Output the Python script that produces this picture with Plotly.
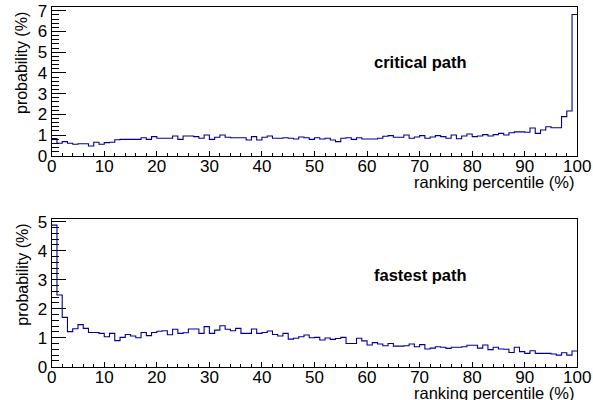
import plotly.graph_objects as go

bin_edges = list(range(0, 101))

critical_path = [
    0.83, 0.60, 0.68, 0.60, 0.55, 0.58, 0.58, 0.47, 0.65, 0.55,
    0.63, 0.65, 0.77, 0.79, 0.79, 0.79, 0.79, 0.87, 0.79, 0.92,
    0.84, 0.84, 0.84, 0.95, 0.79, 0.95, 0.95, 0.92, 0.84, 1.00,
    0.79, 0.89, 1.00, 0.89, 0.87, 0.87, 0.87, 0.76, 0.92, 0.76,
    0.89, 0.95, 0.84, 0.84, 0.87, 0.84, 0.81, 0.90, 0.87, 0.79,
    0.87, 0.81, 0.84, 0.76, 0.68, 0.84, 0.87, 0.79, 0.87, 0.81,
    0.81, 0.81, 0.84, 0.94, 0.97, 0.89, 0.89, 1.00, 0.84, 0.90,
    0.97, 0.84, 0.90, 0.97, 0.92, 0.84, 1.00, 0.82, 0.95, 1.05,
    0.92, 0.95, 1.02, 0.95, 1.02, 1.08, 1.00, 1.11, 1.15, 1.15,
    1.13, 1.34, 1.08, 1.24, 1.40, 1.35, 1.35, 1.89, 2.16, 6.82,
]

fastest_path = [
    4.88, 2.47, 1.70, 1.21, 1.31, 1.45, 1.32, 1.18, 1.18, 1.15,
    1.03, 1.15, 0.90, 1.01, 1.11, 1.06, 1.00, 1.18, 1.07, 1.18,
    1.22, 1.24, 1.10, 1.29, 1.15, 1.17, 1.30, 1.30, 1.15, 1.38,
    1.15, 1.26, 1.41, 1.29, 1.24, 1.32, 1.15, 1.15, 1.30, 1.15,
    1.18, 1.23, 1.11, 1.06, 1.15, 0.95, 0.98, 1.03, 1.09, 1.00,
    1.01, 0.92, 0.99, 0.94, 0.97, 1.01, 0.80, 0.80, 0.98, 0.89,
    0.75, 0.83, 0.78, 0.72, 0.80, 0.71, 0.71, 0.72, 0.78, 0.69,
    0.76, 0.61, 0.64, 0.69, 0.67, 0.63, 0.67, 0.67, 0.69, 0.74,
    0.74, 0.64, 0.75, 0.59, 0.67, 0.61, 0.60, 0.49, 0.67, 0.52,
    0.46, 0.55, 0.46, 0.46, 0.46, 0.44, 0.40, 0.48, 0.40, 0.54,
]

x_ticks = [0, 10, 20, 30, 40, 50, 60, 70, 80, 90, 100]
panel_titles = ["critical path", "fastest path"]
x_title = "ranking percentile (%)"
y_title = "probability (%)"

W, H = 593, 400
FONT = "Liberation Sans, Arial, Helvetica, sans-serif"
LINE = "#000099"

# plot-area pixel boxes (left, right, top, bottom)
x0, x1 = 51.7, 577.3
panels = [(7.3, 155.7, 7.17), (219.0, 366.7, 5.09)]

fig = go.Figure()
data = [critical_path, fastest_path]

for i, (vals, (top, bot, ymax)) in enumerate(zip(data, panels)):
    sfx = "" if i == 0 else str(i + 1)
    fig.add_trace(go.Scatter(
        x=bin_edges, y=vals + [vals[-1]],
        mode="lines", line=dict(color=LINE, width=1.1, shape="hv"),
        xaxis="x" + sfx, yaxis="y" + sfx, showlegend=False,
        hoverinfo="skip",
    ))
    axis_common = dict(
        showline=True, linecolor="black", linewidth=1, mirror=True,
        ticks="inside", tickcolor="black", tickwidth=1,
        showgrid=False, zeroline=False, automargin=False,
        tickfont=dict(family=FONT, size=17, color="black"),
    )
    fig.layout["xaxis" + sfx] = dict(
        domain=[x0 / W, x1 / W], range=[0, 100], anchor="y" + sfx,
        tickvals=x_ticks, ticklen=4.5, ticklabelstandoff=-5,
        minor=dict(dtick=2, ticks="inside", ticklen=2.5, tickcolor="black", tickwidth=1),
        **axis_common,
    )
    fig.layout["yaxis" + sfx] = dict(
        domain=[1 - bot / H, 1 - top / H], range=[0, ymax], anchor="x" + sfx,
        dtick=1, tick0=0, ticklen=14,
        minor=dict(dtick=0.2, ticks="inside", ticklen=7, tickcolor="black", tickwidth=1),
        **axis_common,
    )
    # x title (right aligned)
    fig.add_annotation(
        text=x_title, xref="paper", yref="paper",
        x=x1 / W, y=1 - (bot + 26) / H, xanchor="right", yanchor="middle",
        showarrow=False, font=dict(family=FONT, size=16.5, color="black"),
    )
    # y title (rotated, top aligned)
    fig.add_annotation(
        text=y_title, xref="paper", yref="paper",
        x=21.7 / W, y=1 - (top + 3) / H, xanchor="center", yanchor="top",
        textangle=-90, showarrow=False,
        font=dict(family=FONT, size=16, color="black"),
    )
    # panel label
    fig.add_annotation(
        text="<b>" + panel_titles[i] + "</b>", xref="paper", yref="paper",
        x=420 / W, y=1 - (top + 54.5 + (i * 1.5)) / H, xanchor="center", yanchor="middle",
        showarrow=False, font=dict(family=FONT, size=16.5, color="black"),
    )

fig.update_layout(
    width=W, height=H,
    margin=dict(l=0, r=0, t=0, b=0),
    paper_bgcolor="white", plot_bgcolor="white",
)

fig.write_html(
    "out.html",
    config={"displayModeBar": False},
    post_script="document.body.style.margin='0';document.body.style.padding='0';document.body.style.overflow='hidden';",
)
